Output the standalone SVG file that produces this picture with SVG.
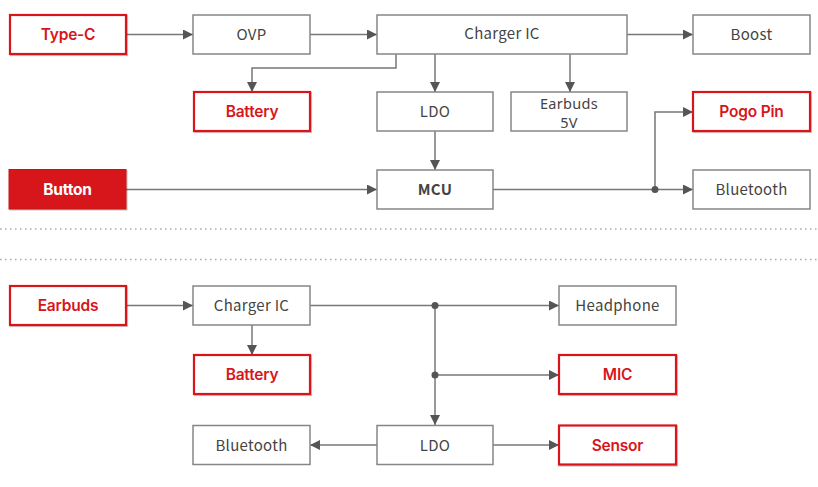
<svg xmlns="http://www.w3.org/2000/svg" width="818" height="487" viewBox="0 0 818 487">
<defs>
<marker id="arr" viewBox="0 0 10 10" refX="10" refY="5" markerWidth="10" markerHeight="10" markerUnits="userSpaceOnUse" orient="auto">
<path d="M0,0 L10,5 L0,10 Z" fill="#555"/>
</marker>
<filter id="sh" x="-5%" y="-10%" width="115%" height="130%">
<feDropShadow dx="1" dy="1" stdDeviation="0.6" flood-color="#000" flood-opacity="0.25"/>
</filter>
</defs>
<style>
.g rect{fill:#fff;stroke:#868686;stroke-width:1.5}
.r rect{fill:#fff;stroke:#D7161B;stroke-width:2.2;filter:url(#sh)}
.f rect{fill:#D7161B;stroke:#C51317;stroke-width:1;filter:url(#sh)}
.g text{font-family:"Noto Sans CJK SC","Noto Sans",sans-serif;font-size:15px;fill:#444;text-anchor:middle;letter-spacing:0.3px}
.r text{font-family:"Inter","Lato",sans-serif;font-size:15.5px;font-weight:600;fill:#D7161B;text-anchor:middle;letter-spacing:-0.2px}
.f text{font-family:"Inter","Lato",sans-serif;font-size:15.5px;font-weight:700;fill:#fff;text-anchor:middle;letter-spacing:-0.2px}
.g text.s{font-family:"Noto Sans",sans-serif;font-size:14.5px}
.c path,.c line{fill:none;stroke:#777;stroke-width:1.5}
.c .a{marker-end:url(#arr)}
.d{fill:#555}
.sep{stroke:#AAA;stroke-width:1.5;stroke-dasharray:1.5 3.5}
</style>
<rect width="818" height="487" fill="#fff"/>
<line class="sep" x1="0" y1="229" x2="818" y2="229"/>
<line class="sep" x1="0" y1="259.5" x2="818" y2="259.5"/>

<g id="connectors" class="c">
<line class="a" x1="126" y1="34.5" x2="193" y2="34.5"/>
<line class="a" x1="310" y1="34.5" x2="377" y2="34.5"/>
<line class="a" x1="627" y1="34.5" x2="693" y2="34.5"/>
<path class="a" d="M396,54 V68 H252 V92"/>
<line class="a" x1="435" y1="54" x2="435" y2="92"/>
<line class="a" x1="570" y1="54" x2="570" y2="92"/>
<line class="a" x1="435" y1="131" x2="435" y2="170"/>
<line class="a" x1="126" y1="189.5" x2="377" y2="189.5"/>
<line class="a" x1="493" y1="189.5" x2="693" y2="189.5"/>
<path class="a" d="M655,189.5 V112 H693"/>
<circle class="d" cx="655" cy="189.5" r="3.5"/>

<line class="a" x1="126" y1="305.5" x2="193" y2="305.5"/>
<line class="a" x1="252" y1="325" x2="252" y2="355"/>
<line class="a" x1="310" y1="305.5" x2="559" y2="305.5"/>
<line class="a" x1="435" y1="305.5" x2="435" y2="425"/>
<line class="a" x1="435" y1="375" x2="559" y2="375"/>
<line class="a" x1="377" y1="445" x2="310" y2="445"/>
<line class="a" x1="493" y1="445" x2="559" y2="445"/>
<circle class="d" cx="435" cy="305.5" r="3.5"/>
<circle class="d" cx="435" cy="375" r="3.5"/>
</g>

<g id="typec" class="r"><rect x="10" y="15" width="116" height="39"/><text x="68" y="40">Type-C</text></g>
<g id="ovp" class="g"><rect x="193" y="15" width="117" height="39"/><text x="251.5" y="40">OVP</text></g>
<g id="charger1" class="g"><rect x="377" y="15" width="250" height="39"/><text x="502" y="39">Charger IC</text></g>
<g id="boost" class="g"><rect x="693" y="15" width="117" height="39"/><text x="751.5" y="40">Boost</text></g>
<g id="battery1" class="r"><rect x="194" y="92" width="116" height="39"/><text x="252" y="117">Battery</text></g>
<g id="ldo1" class="g"><rect x="377" y="92" width="116" height="39"/><text x="435" y="117">LDO</text></g>
<g id="earbuds5v" class="g"><rect x="511" y="92" width="116" height="39"/><text class="s" x="569" y="109">Earbuds</text><text class="s" x="569" y="128">5V</text></g>
<g id="pogo" class="r"><rect x="693" y="92" width="117" height="39"/><text x="751.5" y="117">Pogo Pin</text></g>
<g id="button" class="f"><rect x="9" y="169.5" width="117" height="39.5"/><text x="67.5" y="194.5">Button</text></g>
<g id="mcu" class="g"><rect x="377" y="170" width="116" height="39"/><text x="435" y="195" style="font-weight:700">MCU</text></g>
<g id="bt1" class="g"><rect x="693" y="170" width="117" height="39"/><text x="751.5" y="195">Bluetooth</text></g>

<g id="earbuds" class="r"><rect x="10" y="286" width="116" height="39"/><text x="68" y="311">Earbuds</text></g>
<g id="charger2" class="g"><rect x="193" y="286" width="117" height="39"/><text x="251.5" y="311">Charger IC</text></g>
<g id="headphone" class="g"><rect x="559" y="286" width="117" height="39"/><text x="617.5" y="311">Headphone</text></g>
<g id="battery2" class="r"><rect x="194" y="355" width="116" height="39"/><text x="252" y="380">Battery</text></g>
<g id="mic" class="r"><rect x="559" y="355" width="117" height="39"/><text x="617.5" y="380">MIC</text></g>
<g id="bt2" class="g"><rect x="193" y="425.5" width="117" height="39"/><text x="251.5" y="450.5">Bluetooth</text></g>
<g id="ldo2" class="g"><rect x="377" y="425.5" width="116" height="39"/><text x="435" y="450.5">LDO</text></g>
<g id="sensor" class="r"><rect x="559" y="425.5" width="117" height="39"/><text x="617.5" y="450.5">Sensor</text></g>
</svg>
